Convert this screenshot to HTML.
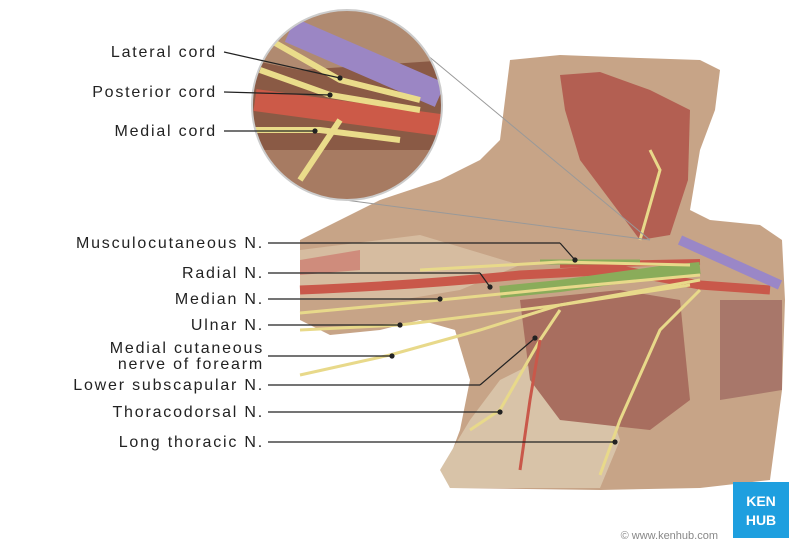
<!DOCTYPE html>
<html><head><meta charset="utf-8"><style>
body{margin:0;background:#fff;}
svg{display:block}
text{font-family:"Liberation Sans",sans-serif;}
</style></head><body>
<svg width="800" height="550" viewBox="0 0 800 550" xmlns="http://www.w3.org/2000/svg">
<rect width="800" height="550" fill="#fff"/>
<path d="M300,240 L330,225 L380,200 L440,180 L480,160 L500,140 L505,100 L510,60 L560,55 L640,58 L700,60 L720,70 L715,110 L700,150 L690,210 L710,220 L760,225 L782,240 L785,300 L782,390 L770,480 L700,488 L600,490 L450,488 L445,470 L460,430 L470,380 L455,330 L420,320 L380,330 L330,335 L300,320 Z" fill="#c7a487"/>
<path d="M300,250 L420,235 L470,250 L520,265 L460,290 L400,300 L300,300 Z" fill="#d9c2a6" opacity="0.8"/>
<path d="M440,470 L470,420 L500,380 L540,360 L600,380 L620,440 L600,488 L450,488 Z" fill="#d8c3a8"/>
<path d="M720,300 L782,300 L782,390 L720,400 Z" fill="#a8776a"/>
<path d="M520,300 L620,290 L680,300 L690,400 L650,430 L560,420 L530,380 Z" fill="#a86e5f"/>
<path d="M560,75 L600,72 L650,90 L690,110 L688,180 L670,235 L640,240 L610,200 L580,160 L565,110 Z" fill="#b35f52"/>
<path d="M300,260 L360,250 L360,270 L300,275 Z" fill="#cf8c7c"/>
<path d="M300,290 Q420,285 520,275 L620,270 L700,285 L770,290" stroke="#c9584a" stroke-width="9" fill="none"/>
<path d="M560,265 L700,262" stroke="#c9584a" stroke-width="6" fill="none"/>
<path d="M680,240 L780,285" stroke="#9a87c7" stroke-width="10" fill="none"/>
<path d="M500,292 L560,286 L660,272 L700,268" stroke="#8aac5a" stroke-width="12" fill="none"/>
<path d="M540,262 L640,262" stroke="#8aac5a" stroke-width="5" fill="none"/>
<g stroke="#e8d98a" fill="none" stroke-width="3">
<path d="M300,313 L440,300 L560,288 L700,275"/>
<path d="M300,330 L400,325 L560,305 L700,280"/>
<path d="M300,375 L390,355 L480,330 L560,305 L690,285"/>
<path d="M470,430 L500,410 L540,340 L560,310"/>
<path d="M600,475 L620,420 L660,330 L700,290"/>
<path d="M640,240 L660,170 L650,150"/>
<path d="M420,270 L560,262 L690,265"/>
</g>
<path d="M520,470 L530,400 L540,340" stroke="#c9584a" stroke-width="3" fill="none"/>
<line x1="415" y1="45" x2="650" y2="240" stroke="#999" stroke-width="1"/>
<line x1="345" y1="200" x2="650" y2="240" stroke="#999" stroke-width="1"/>
<defs><clipPath id="c"><circle cx="347" cy="105" r="95"/></clipPath></defs>
<g clip-path="url(#c)">
<rect x="250" y="10" width="200" height="200" fill="#8a5a45"/>
<path d="M250,10 L450,10 L450,60 L300,70 L250,60 Z" fill="#b08a70"/>
<path d="M250,150 L450,150 L450,210 L250,210 Z" fill="#a77b62"/>
<path d="M290,30 L440,95" stroke="#9b86c4" stroke-width="26"/>
<path d="M255,100 L440,125" stroke="#cc5a48" stroke-width="22"/>
<g stroke="#eadc8a" stroke-width="6" fill="none">
<path d="M270,40 L340,80 L420,100"/><path d="M260,70 L330,95 L420,110"/><path d="M255,130 L320,130 L400,140"/><path d="M300,180 L340,120"/>
</g>
</g>
<circle cx="347" cy="105" r="95" fill="none" stroke="#ccc" stroke-width="2"/>
<g font-size="16" fill="#222" text-anchor="end" letter-spacing="1.8">
<text x="217" y="57">Lateral cord</text>
<text x="217" y="97">Posterior cord</text>
<text x="217" y="136">Medial cord</text>
<text x="264" y="248">Musculocutaneous N.</text>
<text x="264" y="278">Radial N.</text>
<text x="264" y="304">Median N.</text>
<text x="264" y="330">Ulnar N.</text>
<text x="264" y="353">Medial cutaneous</text>
<text x="264" y="369">nerve of forearm</text>
<text x="264" y="390">Lower subscapular N.</text>
<text x="264" y="417">Thoracodorsal N.</text>
<text x="264" y="447">Long thoracic N.</text>
</g>
<g stroke="#222" stroke-width="1.2" fill="#222">
<line x1="224" y1="52" x2="340" y2="78"/><circle cx="340" cy="78" r="2"/>
<line x1="224" y1="92" x2="330" y2="95"/><circle cx="330" cy="95" r="2"/>
<line x1="224" y1="131" x2="315" y2="131"/><circle cx="315" cy="131" r="2"/>
<line x1="268" y1="243" x2="560" y2="243"/><line x1="560" y1="243" x2="575" y2="260"/><circle cx="575" cy="260" r="2"/>
<line x1="268" y1="273" x2="480" y2="273"/><line x1="480" y1="273" x2="490" y2="287"/><circle cx="490" cy="287" r="2"/>
<line x1="268" y1="299" x2="440" y2="299"/><circle cx="440" cy="299" r="2"/>
<line x1="268" y1="325" x2="400" y2="325"/><circle cx="400" cy="325" r="2"/>
<line x1="268" y1="356" x2="392" y2="356"/><circle cx="392" cy="356" r="2"/>
<line x1="268" y1="385" x2="480" y2="385"/><line x1="480" y1="385" x2="535" y2="338"/><circle cx="535" cy="338" r="2"/>
<line x1="268" y1="412" x2="500" y2="412"/><circle cx="500" cy="412" r="2"/>
<line x1="268" y1="442" x2="615" y2="442"/><circle cx="615" cy="442" r="2"/>
</g>
<text x="718" y="539" font-size="11" fill="#888" text-anchor="end">© www.kenhub.com</text>
<rect x="733" y="482" width="56" height="56" fill="#1e9fdf"/>
<text x="761" y="506" font-size="14" fill="#fff" text-anchor="middle" font-weight="bold">KEN</text>
<text x="761" y="525" font-size="14" fill="#fff" text-anchor="middle" font-weight="bold">HUB</text>
</svg>
</body></html>
